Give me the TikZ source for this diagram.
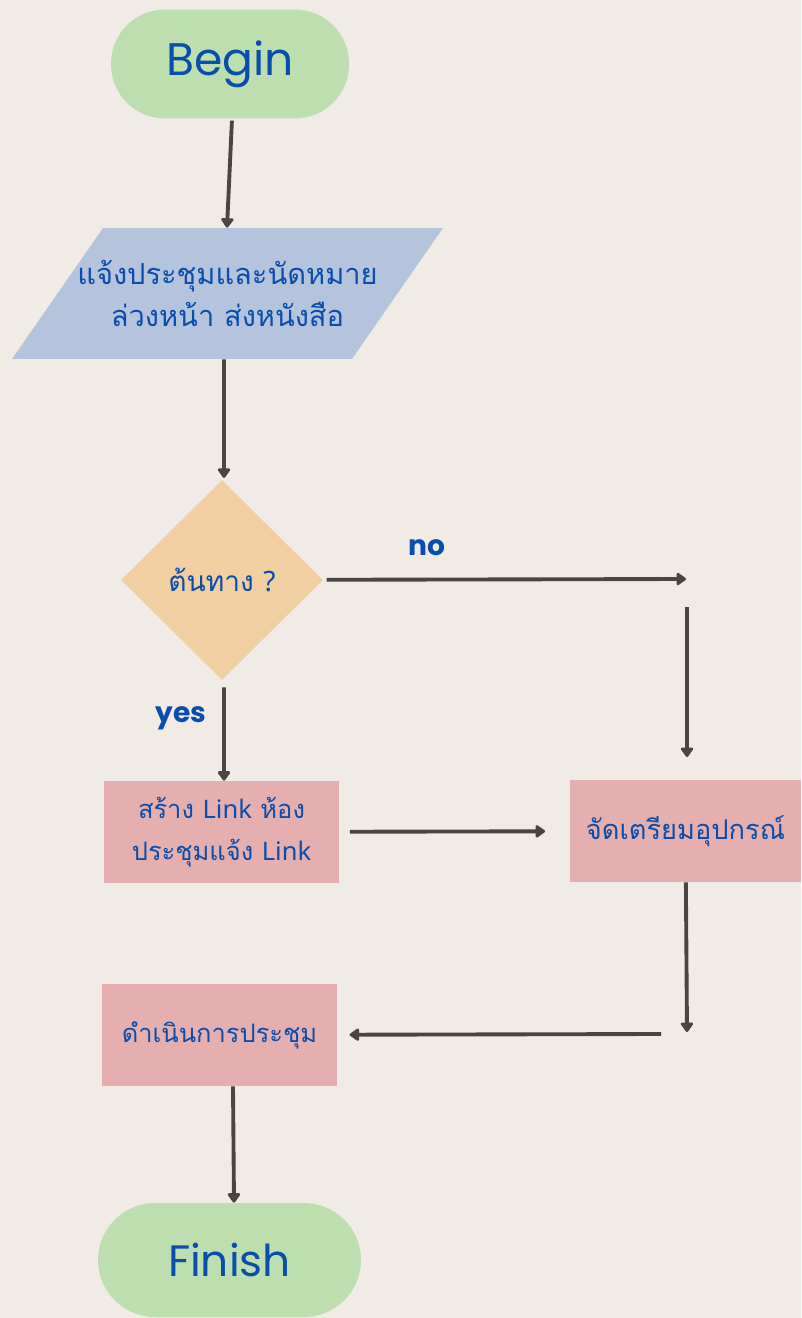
\documentclass[tikz,border=0pt]{standalone}
\usepackage{fontspec}
\setmainfont{Poppins}
\newfontfamily\thaifont[Script=Thai]{Loma}
\newfontfamily\latinfont{Noto Sans}
\usetikzlibrary{positioning, shapes.geometric, arrows.meta}

\definecolor{paper}{HTML}{F0EBE5}
\definecolor{termgreen}{HTML}{BDDFB0}
\definecolor{inputblue}{HTML}{B5C4DD}
\definecolor{askorange}{HTML}{F0CFA2}
\definecolor{stepred}{HTML}{E5AFAF}
\definecolor{inkblue}{HTML}{0A4DAA}
\definecolor{linegray}{HTML}{4A4542}

\tikzset{
    arrow/.style={draw=linegray, line width=2.2pt, -{Triangle[round,width=8pt,length=6pt]}},
    term/.style={fill=termgreen, rounded corners=1.08cm, minimum width=4.76cm, minimum height=2.18cm, inner sep=0pt, text=inkblue, font=\fontsize{26}{30}\selectfont},
    inputbox/.style={rectangle, minimum width=8.62cm, minimum height=2.62cm, inner sep=0pt, text=inkblue, align=center, font=\thaifont\fontsize{16.5}{24.4}\selectfont,
        path picture={\fill[inputblue] ([xshift=1.82cm]path picture bounding box.north west) -- (path picture bounding box.north east)
            -- ([xshift=-1.82cm]path picture bounding box.south east) -- (path picture bounding box.south west) -- cycle;}},
    ask/.style={diamond, fill=askorange, minimum width=4.04cm, minimum height=4cm, inner sep=0pt, text=inkblue, font=\thaifont\fontsize{16}{18}\selectfont},
    stepbox/.style={rectangle, fill=stepred, minimum width=4.7cm, minimum height=2.04cm, inner sep=0pt, text=inkblue, align=center, font=\thaifont\fontsize{14.5}{23.8}\selectfont},
    answer/.style={text=inkblue, font=\bfseries\fontsize{16}{19}\selectfont}
}

\begin{document}
\begin{tikzpicture}[x=0.02cm, y=-0.02cm]
        \fill[paper] (0,0) rectangle (801,1318);
        \useasboundingbox (0,0) rectangle (801,1318);

        % shapes
        \node[term] (begin) at (230,64) {Begin};
        \node[inputbox] (notify) at (227.5,293.5) {แจ้งประชุมและนัดหมาย\\ล่วงหน้า ส่งหนังสือ};
        \node[ask] (check) at (222,580) {ต้นทาง {\latinfont ?}};
        \node[stepbox] (makelink) at (221.5,832) {สร้าง {\latinfont Link} ห้อง\\ประชุมแจ้ง {\latinfont Link}};
        \node[stepbox, minimum width=4.62cm, font=\thaifont\fontsize{15.5}{23.8}\selectfont] (prepare) at (685.5,831) {จัดเตรียมอุปกรณ์};
        \node[stepbox] (meeting) at (219.5,1035) {ดำเนินการประชุม};
        \node[term, minimum width=5.26cm, minimum height=2.28cm, rounded corners=1.14cm, font=\fontsize{25}{30}\selectfont] (finish) at (229.5,1260) {Finish};

        % labels
        \node[answer] (no) at (427,548) {no};
        \node[answer] (yes) at (181,718) {yes};

        % free ends
        \coordinate (noend) at (686,579);
        \coordinate (droptop) at (687,607);
        \coordinate (dropend) at (687,757);
        \coordinate (turn) at (687,1032);
        \coordinate (back) at (661,1034);

        % connectors
        \draw[arrow, shorten <=1pt] ([xshift=0.04cm]begin.south) -- ([xshift=-0.01cm]notify.north);
        \draw[arrow, shorten >=1pt] ([xshift=-0.07cm]notify.south) -- ([xshift=0.04cm]check.north);
        \draw[arrow, shorten <=2pt] (check) -- (noend);
        \draw[arrow] (droptop) -- (dropend);
        \draw[arrow, shorten <=4pt] ([xshift=0.04cm]check.south) -- ([xshift=0.05cm]makelink.north);
        \draw[arrow, shorten <=6pt, shorten >=14pt] (makelink) -- (prepare);
        \draw[arrow] (prepare) -- (turn);
        \draw[arrow, shorten >=7pt] (back) -- (meeting);
        \draw[arrow] ([xshift=0.27cm]meeting.south) -- ([xshift=0.09cm]finish.north);
    \end{tikzpicture}
\end{document}
